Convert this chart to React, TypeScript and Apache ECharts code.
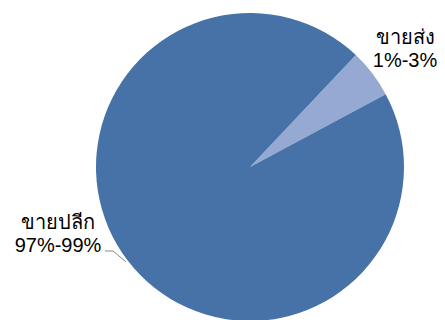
import React, { useEffect, useRef } from "react";
import * as echarts from "echarts";

const categories = ["ขายส่ง", "ขายปลีก"];
const values = [5.1, 94.9];
const labelTexts = ["ขายส่ง\n1%-3%", "ขายปลีก\n97%-99%"];
const colors = ["#95A9D2", "#4672A8"];

export default function App() {
  const ref = useRef<HTMLDivElement>(null);
  useEffect(() => {
    document.body.style.margin = "0";
    const chart = echarts.init(ref.current!, null, { renderer: "svg" });
    chart.setOption({
      animation: false,
      backgroundColor: "#ffffff",
      series: [
        {
          type: "pie",
          center: [250, 167],
          radius: 154,
          startAngle: 46.6,
          clockwise: true,
          data: categories.map((c, i) => ({
            name: c,
            value: values[i],
            itemStyle: { color: colors[i], borderWidth: 0 },
            label: { formatter: labelTexts[i] },
            labelLine: { show: i === 1 },
          })),
          label: {
            show: true,
            position: "outside",
            color: "#000000",
            fontSize: 20,
            lineHeight: 23,
            fontFamily: "Arial, 'Liberation Sans', sans-serif",
            align: "center",
            overflow: "none",
            width: 120,
          },
          labelLine: {
            show: true,
            lineStyle: { color: "#888888", width: 1 },
          },
          labelLayout: (p: any) => {
            if (p.dataIndex === 0) {
              return { x: 405, y: 48, align: "center", verticalAlign: "middle" };
            }
            return {
              x: 58,
              y: 233,
              align: "center",
              verticalAlign: "middle",
              labelLinePoints: [
                [126, 262],
                [113, 251],
                [105, 251],
              ],
            };
          },
        },
      ],
    });
    return () => chart.dispose();
  }, []);
  return <div ref={ref} style={{ width: 445, height: 320 }} />;
}
